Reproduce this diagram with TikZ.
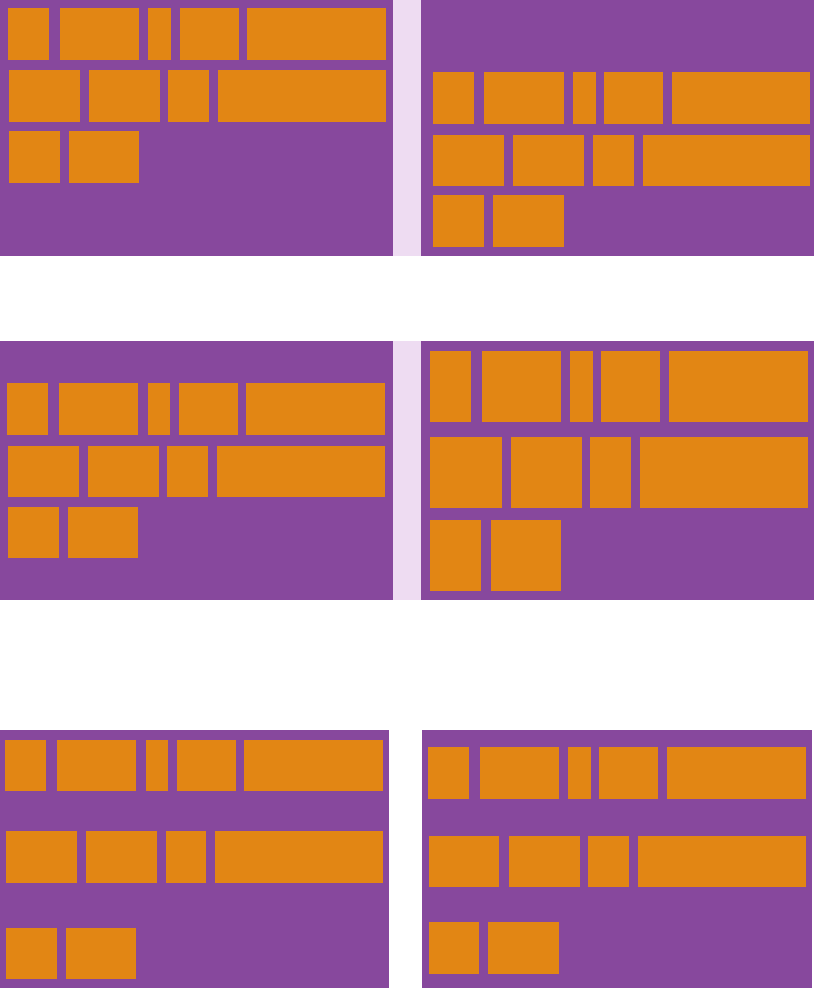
\documentclass[tikz,border=0pt]{standalone}
\definecolor{cpurple}{HTML}{87489D}
\definecolor{corange}{HTML}{E28614}
\definecolor{cstrip}{HTML}{EEDCF2}
\tikzset{
  obox/.style={fill=corange},
  pbox/.style={fill=cpurple},
  sbox/.style={fill=cstrip}
}
\begin{document}
\begin{tikzpicture}[x=1pt,y=-1pt]
\useasboundingbox[fill=white] (0,0) rectangle (814,988);
% containers
\fill[pbox] (0,0) rectangle (393,256);
\fill[sbox] (393,0) rectangle (421,256);
\fill[pbox] (421,0) rectangle (814,256);
\fill[pbox] (0,341) rectangle (393,600);
\fill[sbox] (393,341) rectangle (421,600);
\fill[pbox] (421,341) rectangle (814,600);
\fill[pbox] (0,730) rectangle (389,988);
\fill[pbox] (422,730) rectangle (812,988);
% panel 1
\foreach \a/\b/\c/\d in {8/8/49/60, 60/8/139/60, 148/8/171/60, 180/8/239/60, 247/8/386/60,
  9/70/80/122, 89/70/160/122, 168/70/209/122, 218/70/386/122,
  9/131/60/183, 69/131/139/183}
  \fill[obox] (\a,\b) rectangle (\c,\d);
% panel 2
\foreach \a/\b/\c/\d in {433/72/474/124, 484/72/564/124, 573/72/596/124, 604/72/663/124, 672/72/810/124,
  433/135/504/186, 513/135/584/186, 593/135/634/186, 643/135/810/186,
  433/195/484/247, 493/195/564/247}
  \fill[obox] (\a,\b) rectangle (\c,\d);
% panel 3
\foreach \a/\b/\c/\d in {7/383/48/435, 59/383/138/435, 148/383/170/435, 179/383/238/435, 246/383/385/435,
  8/446/79/497, 88/446/159/497, 167/446/208/497, 217/446/385/497,
  8/507/59/558, 68/507/138/558}
  \fill[obox] (\a,\b) rectangle (\c,\d);
% panel 4
\foreach \a/\b/\c/\d in {430/351/471/422, 482/351/561/422, 570/351/593/422, 601/351/660/422, 669/351/808/422,
  430/437/502/508, 511/437/582/508, 590/437/631/508, 640/437/808/508,
  430/520/481/591, 491/520/561/591}
  \fill[obox] (\a,\b) rectangle (\c,\d);
% panel 5
\foreach \a/\b/\c/\d in {5/740/46/791, 57/740/136/791, 146/740/168/791, 177/740/236/791, 244/740/383/791,
  6/831/77/883, 86/831/157/883, 166/831/206/883, 215/831/383/883,
  6/928/57/979, 66/928/136/979}
  \fill[obox] (\a,\b) rectangle (\c,\d);
% panel 6
\foreach \a/\b/\c/\d in {428/747/469/799, 480/747/559/799, 568/747/591/799, 599/747/658/799, 667/747/806/799,
  429/836/499/887, 509/836/580/887, 588/836/629/887, 638/836/806/887,
  429/922/479/974, 488/922/559/974}
  \fill[obox] (\a,\b) rectangle (\c,\d);
\end{tikzpicture}
\end{document}
